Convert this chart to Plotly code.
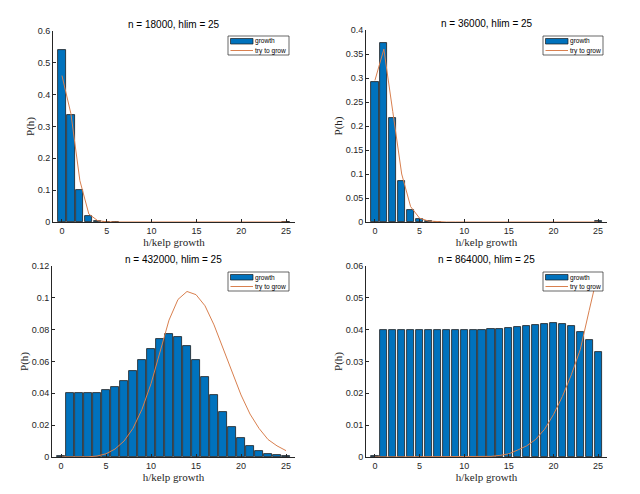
import plotly.graph_objects as go

h = list(range(26))

# Panel 1: n = 18000
bars1 = [0.54, 0.337, 0.100, 0.020, 0.0035, 0.0008, 0.0002] + [0.0] * 18 + [0.0015]
line1 = [0.46, 0.34, 0.13, 0.025, 0.004, 0.0008, 0.0001] + [0.0] * 19

# Panel 2: n = 36000
bars2 = [0.292, 0.373, 0.217, 0.085, 0.025, 0.006, 0.0018, 0.0004] + [0.0] * 17 + [0.0015]
line2 = [0.295, 0.36, 0.23, 0.10, 0.032, 0.008, 0.002, 0.0005] + [0.0] * 18

# Panel 3: n = 432000
bars3 = [0.0004, 0.040, 0.040, 0.040, 0.0405, 0.0418, 0.044, 0.048, 0.054, 0.061,
         0.068, 0.074, 0.077, 0.0757, 0.070, 0.061, 0.050, 0.0388, 0.028, 0.019,
         0.012, 0.0072, 0.004, 0.0022, 0.0011, 0.0006]
line3 = [0.0, 0.0, 0.0, 0.0001, 0.0006, 0.002, 0.005, 0.010, 0.018, 0.030,
         0.046, 0.066, 0.086, 0.099, 0.104, 0.102, 0.095, 0.083, 0.068, 0.053,
         0.039, 0.027, 0.018, 0.011, 0.007, 0.004]

# Panel 4: n = 864000
bars4 = [0.0003, 0.040, 0.040, 0.040, 0.040, 0.040, 0.040, 0.040, 0.040, 0.040,
         0.040, 0.040, 0.040, 0.0401, 0.0402, 0.0404, 0.0407, 0.041, 0.0415, 0.0418,
         0.042, 0.0418, 0.041, 0.0393, 0.0366, 0.0329]
line4 = [0.0] * 12 + [0.00005, 0.0002, 0.0005, 0.001, 0.0022, 0.0035, 0.0055, 0.0087,
                      0.0133, 0.019, 0.0258, 0.0337, 0.046, 0.058]

titles = ["n = 18000, hlim = 25", "n = 36000, hlim = 25",
          "n = 432000, hlim = 25", "n = 864000, hlim = 25"]
ymax = [0.6, 0.4, 0.12, 0.06]
ydtick = [0.1, 0.05, 0.02, 0.01]
xticks = [0, 5, 10, 15, 20, 25]
legend_labels = ["growth", "try to grow"]

W, H = 640, 494
# pixel boxes: (x0, x1, ytop, ybottom)
boxes = [(53, 295, 31, 222), (366, 607, 30, 222), (52, 295, 266, 457), (366, 607, 266, 457)]
# legend boxes in pixels: (x0, y0, x1, y1)
legboxes = [(228, 36, 289, 55), (543, 36, 603, 55), (228, 272, 289, 291), (543, 272, 603, 291)]

BLUE = "#0072BD"
ORANGE = "#D9804F"
AX = "#262626"


def px(x):
    return x / W


def py(y):
    return 1 - y / H


fig = go.Figure()
data = [(bars1, line1), (bars2, line2), (bars3, line3), (bars4, line4)]
for i, (b, l) in enumerate(data):
    k = "" if i == 0 else str(i + 1)
    bx = [x for x, v in zip(h, b) if v > 0]
    by = [v for v in b if v > 0]
    fig.add_trace(go.Bar(x=bx, y=by, width=0.8, name=legend_labels[0],
                         marker=dict(color=BLUE, line=dict(color="#1a1a1a", width=0.8)),
                         xaxis="x" + k, yaxis="y" + k, showlegend=False))
    fig.add_trace(go.Scatter(x=h, y=l, mode="lines", name=legend_labels[1],
                             line=dict(color=ORANGE, width=1),
                             xaxis="x" + k, yaxis="y" + k, showlegend=False))
    x0, x1, yt, yb = boxes[i]
    axis_common = dict(showline=True, linecolor=AX, linewidth=0.8, ticks="inside",
                       ticklen=3, tickcolor=AX, tickwidth=0.6, showgrid=False,
                       zeroline=False, automargin=False,
                       tickfont=dict(family="Liberation Sans", size=9, color=AX))
    fig.update_layout(**{
        "xaxis" + k: dict(domain=[px(x0), px(x1)], range=[-1, 26], tickvals=xticks,
                          anchor="y" + k,
                          title=dict(text="h/kelp growth", standoff=0,
                                     font=dict(family="Liberation Serif", size=11, color=AX)),
                          **axis_common),
        "yaxis" + k: dict(domain=[py(yb), py(yt)], range=[0, ymax[i]], dtick=ydtick[i],
                          anchor="x" + k,
                          title=dict(text="P(h)", standoff=0,
                                     font=dict(family="Liberation Serif", size=11, color=AX)),
                          **axis_common),
    })
    fig.add_annotation(text=titles[i], x=px((x0 + x1) / 2), y=py(yt - 7),
                       xref="paper", yref="paper", showarrow=False,
                       xanchor="center", yanchor="middle",
                       font=dict(family="Liberation Sans", size=10, color="#000"))
    # legend drawn by hand
    lx0, ly0, lx1, ly1 = legboxes[i]
    fig.add_shape(type="rect", xref="paper", yref="paper",
                  x0=px(lx0), x1=px(lx1), y0=py(ly1), y1=py(ly0),
                  line=dict(color=AX, width=0.7), fillcolor="white", layer="above")
    fig.add_shape(type="rect", xref="paper", yref="paper",
                  x0=px(lx0 + 2.5), x1=px(lx0 + 25), y0=py(ly0 + 8), y1=py(ly0 + 2.5),
                  line=dict(color="#1a1a1a", width=0.7), fillcolor=BLUE, layer="above")
    fig.add_shape(type="line", xref="paper", yref="paper",
                  x0=px(lx0 + 2.5), x1=px(lx0 + 25), y0=py(ly0 + 14.5), y1=py(ly0 + 14.5),
                  line=dict(color=ORANGE, width=1), layer="above")
    fig.add_annotation(text=legend_labels[0], x=px(lx0 + 25), y=py(ly0 + 5.5),
                       xref="paper", yref="paper", showarrow=False, xanchor="left",
                       yanchor="middle", font=dict(family="Liberation Sans", size=6.6, color="#000"))
    fig.add_annotation(text=legend_labels[1], x=px(lx0 + 25), y=py(ly0 + 14.5),
                       xref="paper", yref="paper", showarrow=False, xanchor="left",
                       yanchor="middle", font=dict(family="Liberation Sans", size=6.6, color="#000"))

fig.update_layout(width=W, height=H, margin=dict(l=0, r=0, t=0, b=0),
                  paper_bgcolor="white", plot_bgcolor="white", showlegend=False,
                  bargap=0)
fig.write_html("out.html", config={"displayModeBar": False},
               post_script="document.body.style.margin='0px';"
                           "document.body.style.overflow='hidden';")
